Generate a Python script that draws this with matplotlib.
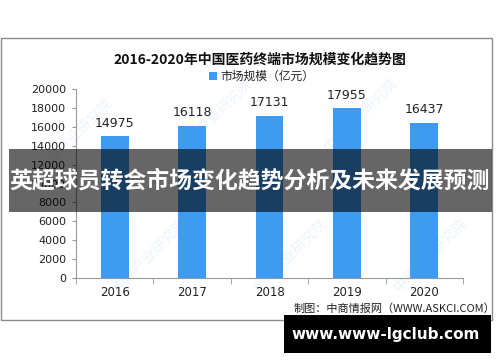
import matplotlib
matplotlib.use("Agg")
import matplotlib.pyplot as plt
from matplotlib.patches import Rectangle

plt.rcParams['font.family'] = ['Noto Sans CJK SC', 'DejaVu Sans']

years = ["2016", "2017", "2018", "2019", "2020"]
values = [14975, 16118, 17131, 17955, 16437]
yticks = [0, 2000, 4000, 6000, 8000, 10000, 12000, 14000, 16000, 18000, 20000]
title = "2016-2020年中国医药终端市场规模变化趋势图"
legend_label = "市场规模（亿元）"
source = "制图：中商情报网（WWW.ASKCI.COM）"
banner = "英超球员转会市场变化趋势分析及未来发展预测"
footer = "www.www-lgclub.com"
watermark = "中商产业研究院"

W, H = 500, 362
fig = plt.figure(figsize=(W / 100, H / 100), dpi=100)

def fx(px):
    return px / W

def fy(py):
    return 1 - py / H

# outer frame
fig.patches.append(Rectangle((fx(1), fy(320)), fx(491), (320 - 38) / H,
                             transform=fig.transFigure, fill=False,
                             edgecolor='#8c8c8c', linewidth=1.0))

# faint watermarks (behind the chart)
for (x, y) in [(75, 135), (215, 115), (360, 115), (150, 255), (290, 255), (430, 255)]:
    fig.text(fx(x), fy(y), watermark, rotation=45, fontsize=10,
             color='#edf3fa', ha='center', va='center', zorder=-1)

ax = fig.add_axes([fx(76), fy(278), fx(463 - 76), (278 - 89) / H])
ax.set_facecolor('none')
x = list(range(len(years)))
ax.bar(x, values, width=0.36, color='#3d9bf2', label=legend_label, zorder=2)
for xi, v in zip(x, values):
    ax.text(xi, v + 700, str(v), ha='center', va='bottom', fontsize=9,
            color='#222222', family=['DejaVu Sans'])

ax.set_xlim(-0.5, len(years) - 0.5)
ax.set_ylim(0, 20000)
ax.set_yticks(yticks)
ax.set_yticklabels([str(t) for t in yticks], fontsize=8, color='#222222',
                   family=['DejaVu Sans'])
ax.set_xticks(x)
ax.set_xticklabels(years, fontsize=8.5, color='#222222', family=['DejaVu Sans'])
ax.set_xticks([i - 0.5 for i in range(len(years) + 1)], minor=True)
ax.tick_params(axis='x', which='major', length=0, pad=6)
ax.tick_params(axis='x', which='minor', length=4, color='#999999', direction='out')
ax.tick_params(axis='y', length=3, color='#999999', pad=4)
for s in ['top', 'right']:
    ax.spines[s].set_visible(False)
ax.spines['left'].set_color('#999999')
ax.spines['bottom'].set_color('#999999')

fig.text(fx(260), fy(60), title, ha='center', va='center', fontsize=10,
         fontweight='bold', color='#111111')
leg = ax.legend(loc='lower center', bbox_to_anchor=(0.48, 1.0), frameon=False,
                fontsize=8.5, handlelength=0.6, handleheight=0.6, handletextpad=0.3,
                borderaxespad=0.1)
for t in leg.get_texts():
    t.set_color('#222222')

fig.text(fx(495), fy(309), source, ha='right', va='center', fontsize=8,
         color='#222222')

# overlay banner
fig.patches.append(Rectangle((fx(9), fy(212)), fx(492 - 9), (212 - 149) / H,
                             transform=fig.transFigure, facecolor='black',
                             alpha=0.6, edgecolor='none', zorder=10))
fig.text(fx(250), fy(181), banner, ha='center', va='center', fontsize=16.5,
         fontweight='bold', color='white', zorder=11)

# footer box
fig.patches.append(Rectangle((fx(284), fy(353)), fx(491 - 284), (353 - 315) / H,
                             transform=fig.transFigure, facecolor='black',
                             edgecolor='none', zorder=10))
fig.text(fx(386), fy(334), footer, ha='center', va='center', fontsize=11,
         fontweight='bold', color='white', family=['DejaVu Sans'], zorder=11)

fig.savefig("out.png", dpi=100)
